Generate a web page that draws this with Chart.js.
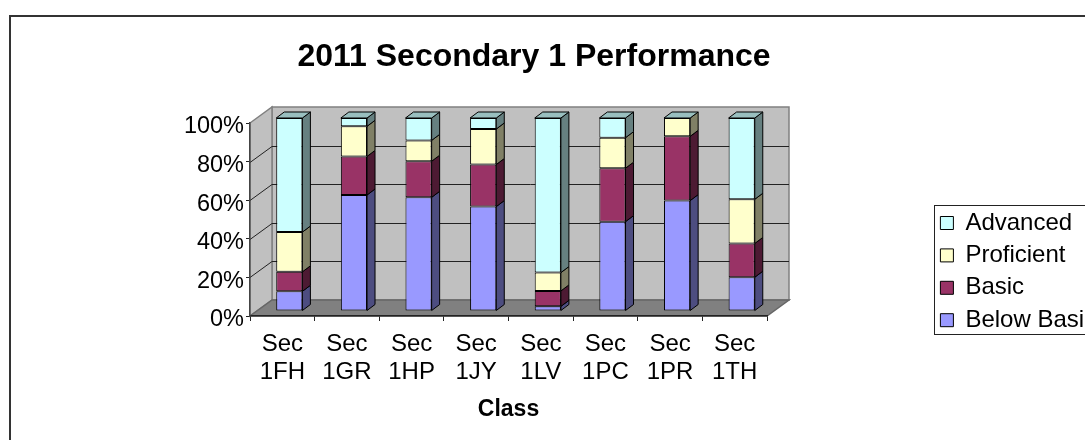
<!DOCTYPE html>
<html>
<head>
<meta charset="utf-8">
<title>2011 Secondary 1 Performance</title>
<script src="https://cdn.jsdelivr.net/npm/chart.js@4"></script>
<style>
    html, body { margin: 0; padding: 0; background: #fff; overflow: hidden; }
    canvas { display: block; }
</style>
</head>
<body>
<canvas id="performanceChart" width="1085" height="440"></canvas>
<script>
//chart data
const classes = [["Sec", "1FH"], ["Sec", "1GR"], ["Sec", "1HP"], ["Sec", "1JY"], ["Sec", "1LV"], ["Sec", "1PC"], ["Sec", "1PR"], ["Sec", "1TH"]];
const belowBasic = [10.2, 60.1, 58.9, 54.1, 2.4, 46.3, 57.2, 17.5];
const basic = [10.1, 20.0, 18.7, 21.8, 8.0, 27.7, 33.3, 17.5];
const proficient = [20.6, 15.6, 10.8, 18.4, 9.5, 15.8, 9.5, 22.9];
const advanced = [59.1, 4.3, 11.6, 5.7, 80.1, 10.2, 0, 42.1];

const FONT = "'Liberation Sans', Arial, sans-serif";

//depth of the fake 3d box and of the bars inside it
const wallDepth = { x: 22, y: -16 };
const barShift = { x: 7, y: -5 };
const barDepth = { x: 8, y: -6 };

function fillPoly(ctx, points, fill, stroke, lineWidth) {
    ctx.beginPath();
    points.forEach((p, i) => i ? ctx.lineTo(p[0], p[1]) : ctx.moveTo(p[0], p[1]));
    ctx.closePath();
    ctx.fillStyle = fill;
    ctx.fill();
    ctx.strokeStyle = stroke;
    ctx.lineWidth = lineWidth;
    ctx.stroke();
}

//multiply a hex colour, used for the shaded faces of the bars
function shade(hex, factor) {
    const n = parseInt(hex.slice(1), 16);
    const r = Math.round((n >> 16 & 255) * factor);
    const g = Math.round((n >> 8 & 255) * factor);
    const b = Math.round((n & 255) * factor);
    return `rgb(${r}, ${g}, ${b})`;
}

//moves title and legend to where they sit in the original, and draws the box and frame
const boxPlugin = {
    id: 'boxPlugin',
    afterLayout(chart) {
        chart.titleBlock.left = 0;
        chart.titleBlock.right = 1068;
        const legend = chart.legend;
        legend.left = 932;
        legend.right = 1085;
        legend.top = 202.6;
        legend.bottom = 440;
    },
    beforeDraw(chart) {
        const ctx = chart.ctx;
        const { x, y } = chart.scales;
        const left = x.left, right = x.right;
        const zero = y.getPixelForValue(0);
        const top = y.getPixelForValue(100);
        const dx = wallDepth.x, dy = wallDepth.y;

        ctx.save();
        //outer frame, open on the right and bottom like the cropped original
        ctx.strokeStyle = '#333';
        ctx.lineWidth = 2;
        ctx.beginPath();
        ctx.moveTo(10, 440);
        ctx.lineTo(10, 16);
        ctx.lineTo(1085, 16);
        ctx.stroke();

        //legend box
        ctx.strokeStyle = '#222';
        ctx.lineWidth = 1;
        ctx.strokeRect(934.5, 205.5, 160, 129);

        //walls and floor
        fillPoly(ctx, [[left + dx, top + dy], [right + dx, top + dy], [right + dx, zero + dy], [left + dx, zero + dy]], '#c0c0c0', '#808080', 1.5);
        fillPoly(ctx, [[left, top], [left + dx, top + dy], [left + dx, zero + dy], [left, zero]], '#c0c0c0', '#808080', 1.5);
        fillPoly(ctx, [[left, zero], [right, zero], [right + dx, zero + dy], [left + dx, zero + dy]], '#808080', '#666', 1.5);

        //gridlines on the side wall and back wall
        ctx.strokeStyle = '#222';
        ctx.lineWidth = 1;
        y.ticks.forEach(t => {
            if (t.value === 0 || t.value === 100) return;
            const py = Math.round(y.getPixelForValue(t.value)) + 0.5;
            ctx.beginPath();
            ctx.moveTo(left, py);
            ctx.lineTo(left + dx, py + dy);
            ctx.lineTo(right + dx, py + dy);
            ctx.stroke();
        });
        ctx.restore();
    },
    beforeDatasetsDraw(chart) {
        const ctx = chart.ctx;
        ctx.save();
        //the library draws the bar fronts inside this shift, restored in afterDatasetsDraw
        ctx.translate(barShift.x, barShift.y);
        const dx = barDepth.x, dy = barDepth.y;
        const count = chart.data.datasets.length;

        chart.data.datasets.forEach((ds, d) => {
            chart.getDatasetMeta(d).data.forEach(bar => {
                const l = bar.x - bar.width / 2;
                const r = bar.x + bar.width / 2;
                const tp = Math.min(bar.y, bar.base);
                const bt = Math.max(bar.y, bar.base);
                if (bt - tp > 0.01) {
                    fillPoly(ctx, [[r, tp], [r + dx, tp + dy], [r + dx, bt + dy], [r, bt]], shade(ds.backgroundColor, 0.5), '#000', 1);
                }
                if (d === count - 1) {
                    fillPoly(ctx, [[l, tp], [r, tp], [r + dx, tp + dy], [l + dx, tp + dy]], shade(ds.backgroundColor, 0.75), '#000', 1);
                }
            });
        });
    },
    afterDatasetsDraw(chart) {
        chart.ctx.restore();
    }
};

function makeDataset(label, values, color) {
    return {
        label: label,
        data: values,
        backgroundColor: color,
        borderColor: '#000',
        borderWidth: 1,
        borderSkipped: false,
        clip: false,
        categoryPercentage: 1,
        barPercentage: 0.405
    };
}

new Chart(document.getElementById('performanceChart').getContext('2d'), {
    type: 'bar',
    data: {
        labels: classes,
        datasets: [
            makeDataset('Below Basic', belowBasic, '#9999ff'),
            makeDataset('Basic', basic, '#993366'),
            makeDataset('Proficient', proficient, '#ffffcc'),
            makeDataset('Advanced', advanced, '#ccffff')
        ]
    },
    options: {
        responsive: false,
        animation: false,
        layout: { padding: { left: 0, right: 318, top: 0, bottom: 0 } },
        scales: {
            x: {
                stacked: true,
                afterFit: scale => { scale.height = 124; },
                grid: { drawOnChartArea: false, drawTicks: true, tickLength: 5, color: '#222' },
                border: { color: '#222', width: 1.5 },
                ticks: {
                    color: '#000',
                    maxRotation: 0,
                    autoSkip: false,
                    padding: 9,
                    font: { family: FONT, size: 24, lineHeight: 1.17 }
                },
                title: {
                    display: true,
                    text: 'Class',
                    color: '#000',
                    padding: { top: 0, bottom: 17 },
                    font: { family: FONT, size: 23, weight: 'bold', lineHeight: 1.2 }
                }
            },
            y: {
                stacked: true,
                min: 0,
                max: 100,
                afterFit: scale => { scale.width = 250; },
                grid: { drawOnChartArea: false, drawTicks: true, tickLength: 4, color: '#222' },
                border: { color: '#444', width: 1.5 },
                ticks: {
                    stepSize: 20,
                    color: '#000',
                    padding: 2,
                    labelOffset: 4,
                    callback: value => value + '%',
                    font: { family: FONT, size: 23.5 }
                }
            }
        },
        plugins: {
            title: {
                display: true,
                text: '2011 Secondary 1 Performance',
                color: '#000',
                padding: { top: 37.8, bottom: 46.8 },
                font: { family: FONT, size: 32, weight: 'bold', lineHeight: 1.2 }
            },
            legend: {
                display: true,
                position: 'chartArea',
                align: 'start',
                reverse: true,
                labels: {
                    color: '#000',
                    boxWidth: 13,
                    boxHeight: 13,
                    padding: 8.4,
                    font: { family: FONT, size: 24 }
                }
            },
            tooltip: { enabled: false }
        }
    },
    plugins: [boxPlugin]
});
</script>
</body>
</html>
